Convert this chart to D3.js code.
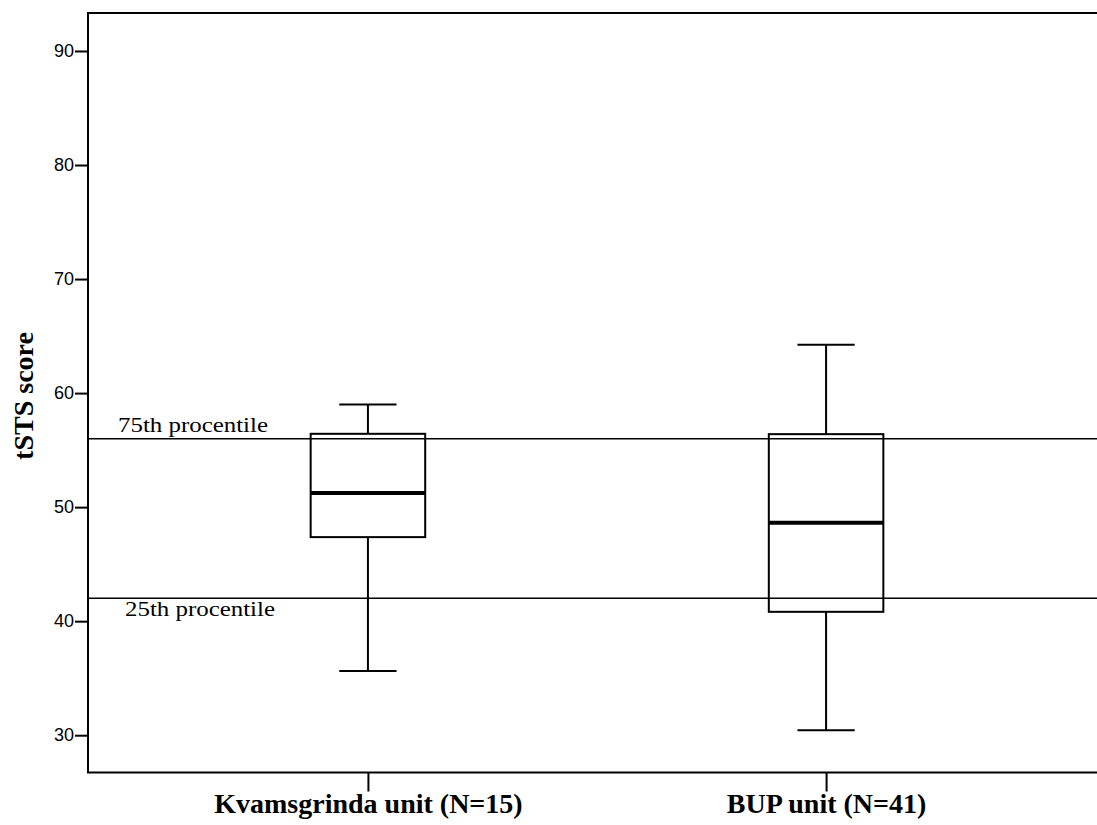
<!DOCTYPE html>
<html lang="en">
<head>
    <meta charset="UTF-8">
    <script src="https://d3js.org/d3.v7.min.js"></script>
    <title>tSTS score by unit</title>
    <style>
        body { margin: 0; background: #fff; }
        svg { display: block; }
    </style>
</head>
<body>
    <div id="chart"></div>
    <script>
        // data
        const groups = ["Kvamsgrinda unit (N=15)", "BUP unit (N=41)"];
        const whiskerLow = [35.64, 30.44];
        const q1 = [47.37, 40.82];
        const median = [51.25, 48.62];
        const q3 = [56.43, 56.40];
        const whiskerHigh = [59.01, 64.24];
        const yTicks = [30, 40, 50, 60, 70, 80, 90];
        const refLines = [
            { value: 56, label: "75th procentile" },
            { value: 42, label: "25th procentile" }
        ];

        const width = 1097, height = 825;
        const plotLeft = 88, plotRight = 1106, plotTop = 13, plotBottom = 772.5;
        const serif = "Liberation Serif, Times New Roman, serif";

        const svg = d3.select("#chart").append("svg")
            .attr("width", width)
            .attr("height", height);

        const y = d3.scaleLinear().domain([26.73, 93.33]).range([plotBottom, plotTop]);
        const x = d3.scalePoint().domain(groups).range([plotLeft, plotRight]).padding(0.611);
        const boxW = x.step() * 0.25;

        // frame
        svg.append("rect")
            .attr("x", plotLeft).attr("y", plotTop)
            .attr("width", plotRight - plotLeft).attr("height", plotBottom - plotTop)
            .attr("fill", "none").attr("stroke", "#000").attr("stroke-width", 2);

        // y axis
        const yAxis = svg.append("g")
            .attr("transform", `translate(${plotLeft},0)`)
            .call(d3.axisLeft(y).tickValues(yTicks).tickSize(13).tickPadding(1));
        yAxis.select(".domain").remove();
        yAxis.selectAll("line").attr("stroke-width", 2);
        yAxis.selectAll("text")
            .attr("font-family", "Liberation Sans, Arial, sans-serif")
            .attr("font-size", 18)
            .attr("fill", "#000");

        // x axis
        const xAxis = svg.append("g")
            .attr("transform", `translate(0,${plotBottom})`)
            .call(d3.axisBottom(x).tickSize(19).tickPadding(2));
        xAxis.select(".domain").remove();
        xAxis.selectAll("line").attr("stroke-width", 2);
        xAxis.selectAll("text")
            .attr("font-family", serif)
            .attr("font-weight", "bold")
            .attr("font-size", 28)
            .attr("fill", "#000");

        // y axis title
        svg.append("text")
            .attr("transform", "translate(33,396) rotate(-90)")
            .attr("text-anchor", "middle")
            .attr("font-family", serif)
            .attr("font-weight", "bold")
            .attr("font-size", 28)
            .text("tSTS score");

        // boxes
        const boxes = svg.selectAll(".box")
            .data(groups)
            .enter()
            .append("g")
            .attr("class", "box");

        boxes.append("line")
            .attr("x1", d => x(d)).attr("x2", d => x(d))
            .attr("y1", (d, i) => y(whiskerHigh[i])).attr("y2", (d, i) => y(q3[i]))
            .attr("stroke", "#000").attr("stroke-width", 2);
        boxes.append("line")
            .attr("x1", d => x(d)).attr("x2", d => x(d))
            .attr("y1", (d, i) => y(q1[i])).attr("y2", (d, i) => y(whiskerLow[i]))
            .attr("stroke", "#000").attr("stroke-width", 2);
        [whiskerHigh, whiskerLow].forEach(arr => {
            boxes.append("line")
                .attr("x1", d => x(d) - boxW / 4).attr("x2", d => x(d) + boxW / 4)
                .attr("y1", (d, i) => y(arr[i])).attr("y2", (d, i) => y(arr[i]))
                .attr("stroke", "#000").attr("stroke-width", 2);
        });
        boxes.append("rect")
            .attr("x", d => x(d) - boxW / 2)
            .attr("width", boxW)
            .attr("y", (d, i) => y(q3[i]))
            .attr("height", (d, i) => y(q1[i]) - y(q3[i]))
            .attr("fill", "#fff").attr("stroke", "#000").attr("stroke-width", 2);
        boxes.append("line")
            .attr("x1", d => x(d) - boxW / 2).attr("x2", d => x(d) + boxW / 2)
            .attr("y1", (d, i) => y(median[i])).attr("y2", (d, i) => y(median[i]))
            .attr("stroke", "#000").attr("stroke-width", 4);

        // reference lines
        svg.selectAll(".ref")
            .data(refLines)
            .enter()
            .append("line")
            .attr("x1", plotLeft).attr("x2", plotRight)
            .attr("y1", d => y(d.value)).attr("y2", d => y(d.value))
            .attr("stroke", "#000").attr("stroke-width", 1.5);

        svg.append("text")
            .attr("x", 118).attr("y", y(refLines[0].value) - 6.5)
            .attr("font-family", serif)
            .attr("font-size", 22)
            .attr("textLength", 150).attr("lengthAdjust", "spacingAndGlyphs")
            .text(refLines[0].label);
        svg.append("text")
            .attr("x", 125).attr("y", y(refLines[1].value) + 18)
            .attr("font-family", serif)
            .attr("font-size", 22)
            .attr("textLength", 150).attr("lengthAdjust", "spacingAndGlyphs")
            .text(refLines[1].label);
    </script>
</body>
</html>
